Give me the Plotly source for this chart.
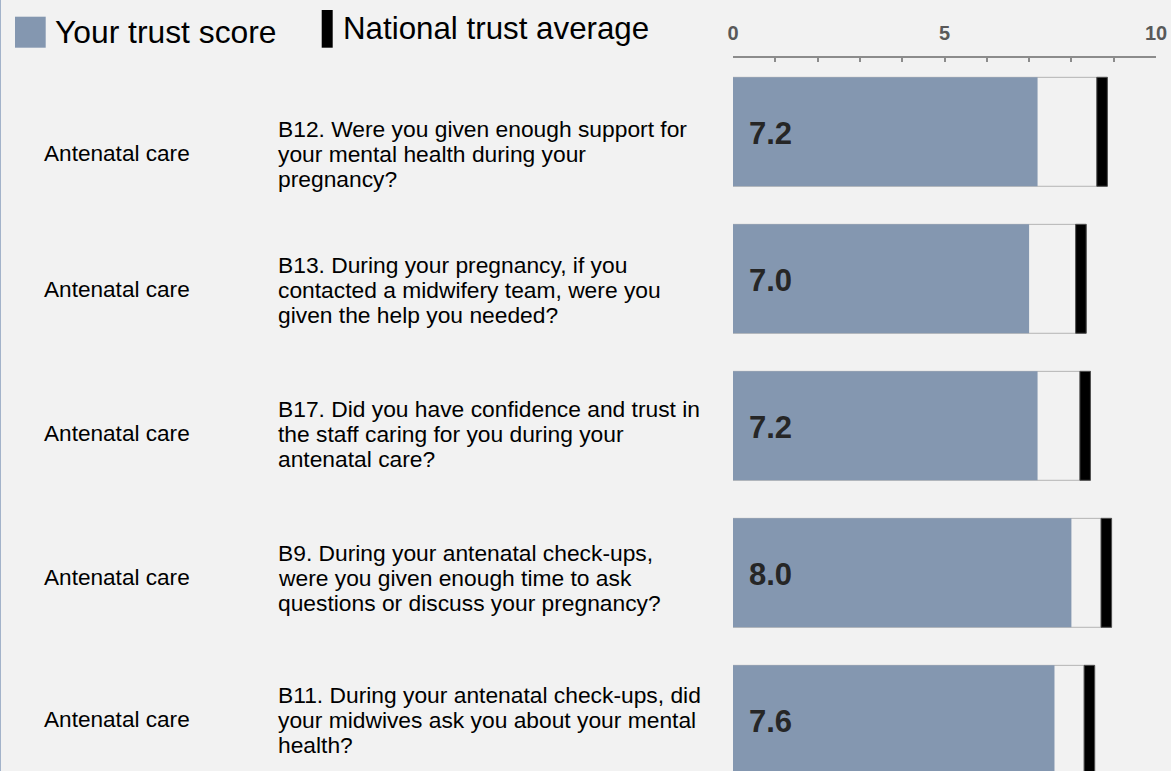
import plotly.graph_objects as go

# ---------------- data ----------------
categories = ["Antenatal care"] * 5
question_lines = [
    ["B12. Were you given enough support for", "your mental health during your", "pregnancy?"],
    ["B13. During your pregnancy, if you", "contacted a midwifery team, were you", "given the help you needed?"],
    ["B17. Did you have confidence and trust in", "the staff caring for you during your", "antenatal care?"],
    ["B9. During your antenatal check-ups,", "were you given enough time to ask", "questions or discuss your pregnancy?"],
    ["B11. During your antenatal check-ups, did", "your midwives ask you about your mental", "health?"],
]
trust_scores = [7.2, 7.0, 7.2, 8.0, 7.6]
national_avg = [8.6, 8.1, 8.2, 8.7, 8.3]
tick_values = list(range(0, 11))
tick_labels = ["0", "", "", "", "", "5", "", "", "", "", "10"]
legend_labels = ["Your trust score", "National trust average"]

# ---------------- styling ----------------
W, H = 1171, 771
BG = "#F2F2F2"
BLUE = "#8497B0"
FONT = "Liberation Sans, Arial, sans-serif"
MARKER_W = 0.25          # width of the national-average marker, in score units
BAR_W = 0.741
TEXT_SHIFT = [-22, -11, -8, -5, 0]   # vertical offset of the text rows vs bars (px)
LINE_GAP = 25

def px(x):
    return x / W

def py(y):
    return 1 - y / H

rows = list(range(len(trust_scores)))

fig = go.Figure()
# white box up to the end of the national average marker
fig.add_trace(go.Bar(
    x=[a + MARKER_W for a in national_avg], y=rows, orientation="h", width=BAR_W,
    marker=dict(color=BG, line=dict(color="#B4B4B4", width=1)),
    hoverinfo="skip", showlegend=False))
# trust score
fig.add_trace(go.Bar(
    x=trust_scores, y=rows, orientation="h", width=BAR_W,
    marker=dict(color=BLUE, line=dict(width=0)),
    showlegend=False, name=legend_labels[0]))
# national average marker
fig.add_trace(go.Bar(
    x=[MARKER_W] * len(national_avg), base=national_avg, y=rows, orientation="h", width=BAR_W,
    marker=dict(color="#000000", line=dict(color="#505050", width=1)),
    showlegend=False, name=legend_labels[1]))

annotations = []
for i in rows:
    # score value label
    annotations.append(dict(
        x=0, y=i, xref="x", yref="y", xanchor="left", yanchor="middle",
        xshift=14, yshift=-2, text=f"{trust_scores[i]:.1f}", showarrow=False,
        font=dict(family=FONT, size=31, color="#262626", weight="bold")))
    # category
    annotations.append(dict(
        x=px(42), y=i, xref="paper", yref="y", xanchor="left", yanchor="middle",
        yshift=TEXT_SHIFT[i], text=categories[i], showarrow=False,
        font=dict(family=FONT, size=22.6, color="#000000")))
    # question lines
    for j, line in enumerate(question_lines[i]):
        annotations.append(dict(
            x=px(276), y=i, xref="paper", yref="y", xanchor="left", yanchor="middle",
            yshift=TEXT_SHIFT[i] - (j - 1) * LINE_GAP, text=line, showarrow=False,
            font=dict(family=FONT, size=22.8, color="#000000")))

# legend texts
annotations.append(dict(
    x=px(53), y=py(32), xref="paper", yref="paper", xanchor="left", yanchor="middle",
    text=legend_labels[0], showarrow=False, font=dict(family=FONT, size=31.8, color="#000000")))
annotations.append(dict(
    x=px(341), y=py(29), xref="paper", yref="paper", xanchor="left", yanchor="middle",
    text=legend_labels[1], showarrow=False, font=dict(family=FONT, size=31.3, color="#000000")))

shapes = [
    dict(type="rect", xref="paper", yref="paper", x0=px(15), x1=px(45.7), y0=py(47.7), y1=py(16.7),
         fillcolor=BLUE, line=dict(width=0)),
    dict(type="rect", xref="paper", yref="paper", x0=px(321.7), x1=px(332.7), y0=py(47.7), y1=py(10),
         fillcolor="#000000", line=dict(width=0)),
    dict(type="line", xref="paper", yref="paper", x0=px(0.5), x1=px(0.5), y0=0, y1=1,
         line=dict(color="#A3B3CA", width=1)),
]

x_dom = [px(733), px(1156)]
fig.update_layout(
    width=W, height=H, autosize=False,
    margin=dict(l=0, r=0, t=0, b=0, pad=0, autoexpand=False),
    paper_bgcolor=BG, plot_bgcolor=BG,
    barmode="overlay",
    showlegend=False,
    annotations=annotations,
    shapes=shapes,
    xaxis=dict(
        domain=x_dom, range=[0, 10], side="top", anchor="y", automargin=False,
        showline=True, linecolor="#8C8C8C", linewidth=2,
        ticks="inside", ticklen=4, tickwidth=2, tickcolor="#8C8C8C",
        tickmode="array", tickvals=tick_values, ticktext=tick_labels,
        tickfont=dict(family=FONT, size=20, color="#595959", weight="bold"),
        ticklabelstandoff=8,
        showgrid=False, zeroline=False, fixedrange=True),
    xaxis2=dict(
        domain=x_dom, range=[0, 10], side="top", anchor="y", overlaying="x", automargin=False,
        showline=False, ticks="outside", ticklen=7, tickwidth=2, tickcolor="#8C8C8C",
        tickmode="array", tickvals=[0, 5, 10], showticklabels=False,
        showgrid=False, zeroline=False, fixedrange=True),
    yaxis=dict(
        domain=[0, py(58.3)], range=[4.348, -0.5], automargin=False,
        showticklabels=False, showgrid=False, zeroline=False, showline=False,
        ticks="", fixedrange=True),
)

fig.write_html("out.html")
